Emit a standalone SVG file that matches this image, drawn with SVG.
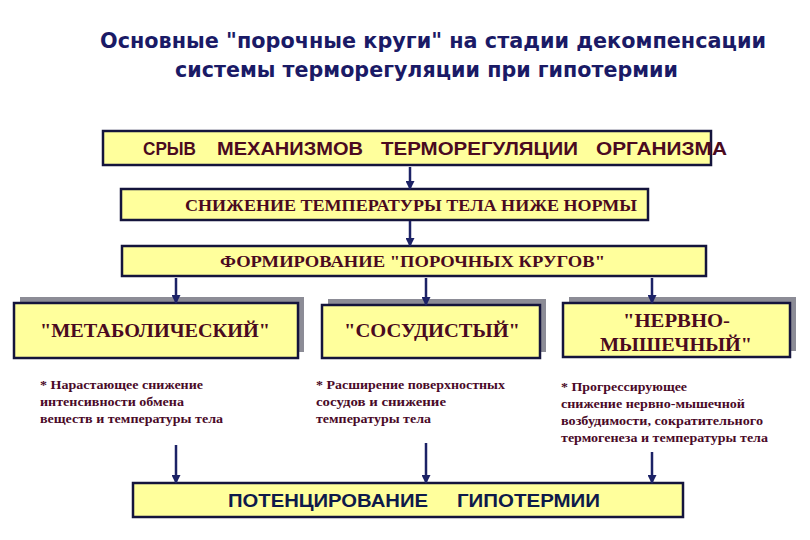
<svg xmlns="http://www.w3.org/2000/svg" width="810" height="540" viewBox="0 0 810 540">
<defs>
<marker id="ah" markerWidth="9" markerHeight="9" refX="8" refY="4.5" orient="auto" markerUnits="userSpaceOnUse" viewBox="0 0 9 9">
<path d="M0,0 L9,4.5 L0,9 Z" fill="#1c2266"/>
</marker>
<style>
.box{fill:#ffff9c;stroke:#14143c;stroke-width:2.5}
.shadow{fill:#8c8c96}
.title{font-family:"DejaVu Sans",Verdana,sans-serif;font-weight:bold;font-size:21px;fill:#1a1a66}
.sans{font-family:"Liberation Sans",Arial,sans-serif;font-weight:bold;font-size:18px;fill:#4a0a20}
.serif{font-family:"Liberation Serif","Times New Roman",serif;font-weight:bold;font-size:17px;fill:#4a0a20}
.big{font-size:19px}
.desc{font-family:"Liberation Serif","Times New Roman",serif;font-weight:bold;font-size:13.5px;fill:#4a0a28}
.bottom{font-family:"Liberation Sans",Arial,sans-serif;font-weight:bold;font-size:19px;fill:#0e1a4a}
.conn{stroke:#1c2266;stroke-width:2.5;fill:none;marker-end:url(#ah)}
</style>
</defs>
<rect width="810" height="540" fill="#ffffff"/>
<g id="title">
<text class="title" x="100" y="48" textLength="666" lengthAdjust="spacingAndGlyphs">Основные "порочные круги" на стадии декомпенсации</text>
<text class="title" x="175" y="77" textLength="503" lengthAdjust="spacingAndGlyphs">системы терморегуляции при гипотермии</text>
</g>
<g id="n-srv">
<rect class="box" x="103" y="131" width="608" height="34"/>
<text class="sans" x="143" y="155" textLength="53" lengthAdjust="spacingAndGlyphs">СРЫВ</text>
<text class="sans" x="217" y="155" textLength="146" lengthAdjust="spacingAndGlyphs">МЕХАНИЗМОВ</text>
<text class="sans" x="381" y="155" textLength="197" lengthAdjust="spacingAndGlyphs">ТЕРМОРЕГУЛЯЦИИ</text>
<text class="sans" x="596" y="155" textLength="131" lengthAdjust="spacingAndGlyphs">ОРГАНИЗМА</text>
</g>
<g id="n-snizh">
<rect class="box" x="121" y="189" width="527" height="31"/>
<text class="serif" x="185" y="211" textLength="452" lengthAdjust="spacingAndGlyphs">СНИЖЕНИЕ ТЕМПЕРАТУРЫ ТЕЛА НИЖЕ НОРМЫ</text>
</g>
<g id="n-form">
<rect class="box" x="122" y="246" width="584" height="30"/>
<text class="serif" x="220" y="267" textLength="385" lengthAdjust="spacingAndGlyphs">ФОРМИРОВАНИЕ "ПОРОЧНЫХ  КРУГОВ"</text>
</g>
<g id="n-metab">
<rect class="shadow" x="20" y="297" width="284" height="55"/>
<rect class="box" x="14" y="303" width="284" height="55"/>
<text class="serif big" x="40" y="337" textLength="230" lengthAdjust="spacingAndGlyphs">"МЕТАБОЛИЧЕСКИЙ"</text>
</g>
<g id="n-sosud">
<rect class="shadow" x="328" y="299" width="218" height="53"/>
<rect class="box" x="322" y="305" width="218" height="53"/>
<text class="serif big" x="344" y="337" textLength="176" lengthAdjust="spacingAndGlyphs">"СОСУДИСТЫЙ"</text>
</g>
<g id="n-nerv">
<rect class="shadow" x="569" y="297" width="227" height="54"/>
<rect class="box" x="563" y="303" width="227" height="54"/>
<text class="serif big" x="623" y="327" textLength="107" lengthAdjust="spacingAndGlyphs">"НЕРВНО-</text>
<text class="serif big" x="600" y="351" textLength="152" lengthAdjust="spacingAndGlyphs">МЫШЕЧНЫЙ"</text>
</g>
<g id="d-metab">
<text class="desc" x="40" y="389" textLength="163" lengthAdjust="spacingAndGlyphs">* Нарастающее снижение</text>
<text class="desc" x="40" y="406" textLength="144" lengthAdjust="spacingAndGlyphs">интенсивности обмена</text>
<text class="desc" x="40" y="423" textLength="183" lengthAdjust="spacingAndGlyphs">веществ и температуры тела</text>
</g>
<g id="d-sosud">
<text class="desc" x="316" y="389" textLength="189" lengthAdjust="spacingAndGlyphs">* Расширение поверхностных</text>
<text class="desc" x="316" y="406" textLength="130" lengthAdjust="spacingAndGlyphs">сосудов  и  снижение</text>
<text class="desc" x="316" y="423" textLength="115" lengthAdjust="spacingAndGlyphs">температуры тела</text>
</g>
<g id="d-nerv">
<text class="desc" x="561" y="391" textLength="126" lengthAdjust="spacingAndGlyphs">* Прогрессирующее</text>
<text class="desc" x="561" y="408" textLength="184" lengthAdjust="spacingAndGlyphs">снижение нервно-мышечной</text>
<text class="desc" x="561" y="425" textLength="202" lengthAdjust="spacingAndGlyphs">возбудимости, сократительного</text>
<text class="desc" x="561" y="442" textLength="207" lengthAdjust="spacingAndGlyphs">термогенеза и температуры тела</text>
</g>
<g id="n-potenc">
<rect class="box" x="133" y="483" width="550" height="34"/>
<text class="bottom" x="228" y="507" textLength="200" lengthAdjust="spacingAndGlyphs">ПОТЕНЦИРОВАНИЕ</text>
<text class="bottom" x="457" y="507" textLength="143" lengthAdjust="spacingAndGlyphs">ГИПОТЕРМИИ</text>
</g>
<g id="connectors">
<line class="conn" x1="410" y1="167" x2="410" y2="189"/>
<line class="conn" x1="410" y1="221" x2="410" y2="246"/>
<line class="conn" x1="176" y1="278" x2="176" y2="303"/>
<line class="conn" x1="426" y1="278" x2="426" y2="305"/>
<line class="conn" x1="652" y1="278" x2="652" y2="303"/>
<line class="conn" x1="176" y1="445" x2="176" y2="483"/>
<line class="conn" x1="426" y1="443" x2="426" y2="483"/>
<line class="conn" x1="652" y1="452" x2="652" y2="483"/>
</g>
</svg>
